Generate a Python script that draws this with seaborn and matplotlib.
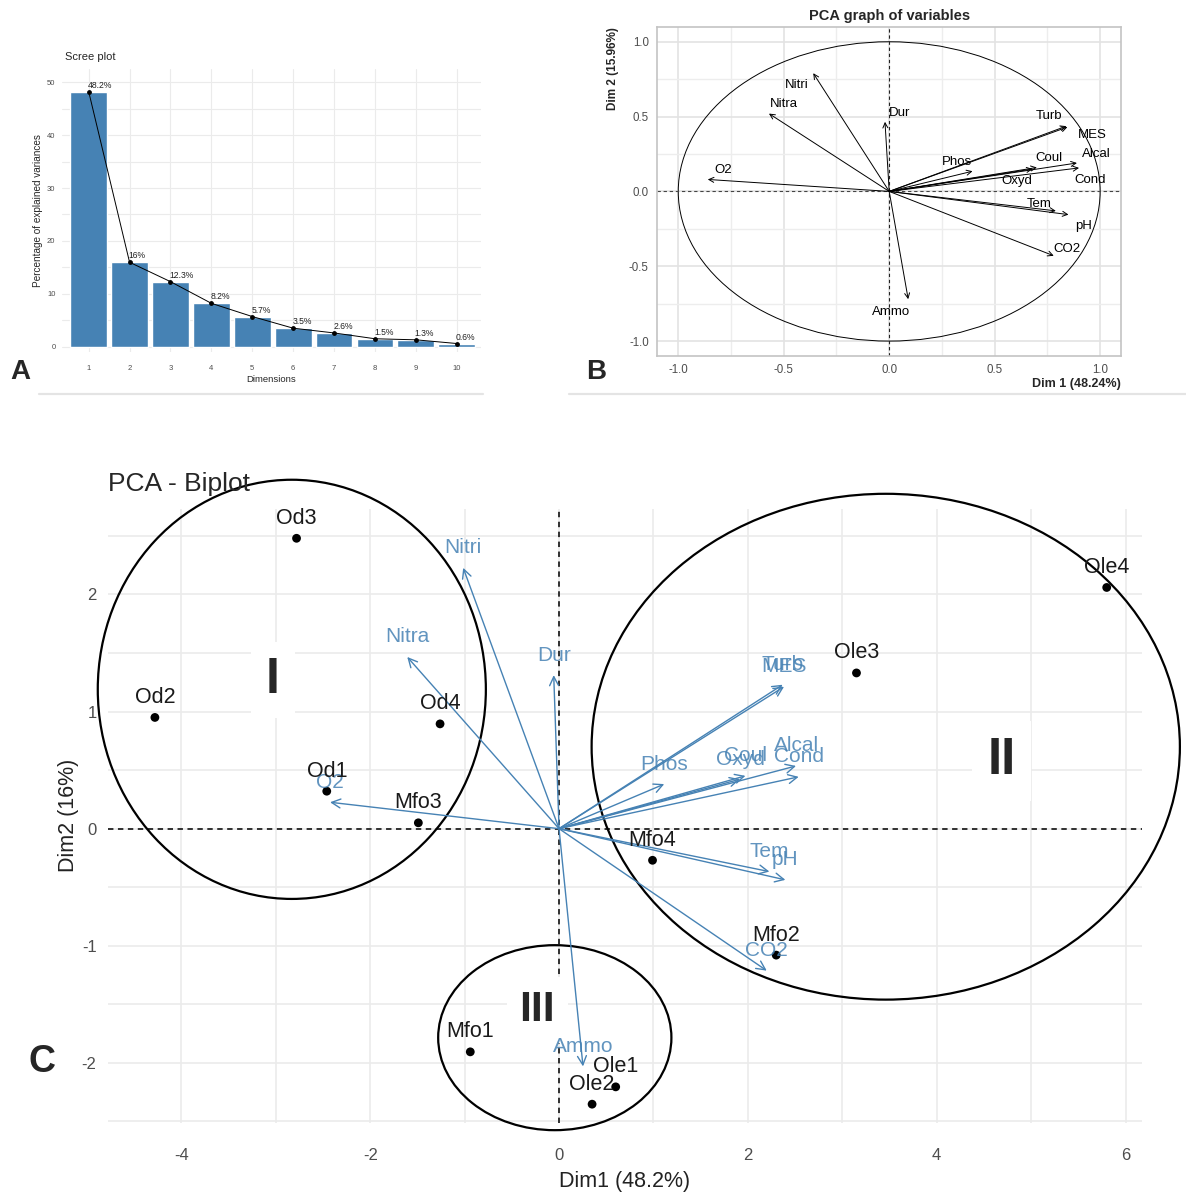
import matplotlib
matplotlib.use('Agg')
import matplotlib.pyplot as plt
from matplotlib.patches import Ellipse, Circle
from matplotlib.lines import Line2D
from matplotlib.ticker import MultipleLocator
import numpy as np
import pandas as pd
import seaborn as sns

sns.set_style('whitegrid')
plt.rcParams['font.family'] = ['Liberation Sans', 'DejaVu Sans']
plt.rcParams['axes.unicode_minus'] = False

# scree plot (A)
dims = [str(i) for i in range(1, 11)]
eig_pct = [48.24, 15.96, 12.3, 8.2, 5.7, 3.5, 2.6, 1.5, 1.3, 0.6]

# variable coordinates on the correlation circle (B)
var_names = ['Nitri', 'Nitra', 'Dur', 'O2', 'Turb', 'MES', 'Alcal', 'Coul',
             'Cond', 'Oxyd', 'Phos', 'Tem', 'pH', 'CO2', 'Ammo']
var_x = [-0.36, -0.57, -0.02, -0.86, 0.84, 0.845, 0.89, 0.70,
         0.90, 0.68, 0.395, 0.79, 0.85, 0.78, 0.09]
var_y = [0.79, 0.52, 0.465, 0.08, 0.436, 0.43, 0.19, 0.16,
         0.157, 0.15, 0.135, -0.13, -0.155, -0.43, -0.72]

# individuals (C)
ind_names = ['Od1', 'Od2', 'Od3', 'Od4', 'Mfo1', 'Mfo2', 'Mfo3', 'Mfo4',
             'Ole1', 'Ole2', 'Ole3', 'Ole4']
ind_x = [-2.46, -4.28, -2.78, -1.26, -0.94, 2.30, -1.49, 0.99, 0.60, 0.35, 3.15, 5.80]
ind_y = [0.32, 0.95, 2.48, 0.895, -1.906, -1.08, 0.05, -0.27, -2.205, -2.353, 1.33, 2.06]

# groups circled on the biplot
grp_names = ['I', 'II', 'III']
grp_cx = [-2.83, 3.46, -0.045]
grp_cy = [1.19, 0.70, -1.785]
grp_w = [4.11, 6.23, 2.47]
grp_h = [3.58, 4.32, 1.58]
grp_lx = [-3.03, 4.69, -0.23]
grp_ly = [1.27, 0.58, -1.55]

arrow_scale = 2.82  # variables rescaled onto the individuals map

GRID = '#EBEBEB'
TXT = '#4D4D4D'
BLUE = '#4682B4'

fig = plt.figure(figsize=(11.86, 11.96), dpi=100)

# ---------------- A : scree plot
axA = fig.add_axes([0.0520, 0.7057, 0.3535, 0.2366])
sns.barplot(x=dims, y=eig_pct, color=BLUE, saturation=1, width=0.9, ax=axA, zorder=2)
sns.lineplot(x=np.arange(len(dims)), y=eig_pct, color='black', lw=0.7, ax=axA, zorder=3)
axA.scatter(np.arange(len(dims)), eig_pct, s=6, color='black', zorder=4)
for i, v in enumerate(eig_pct):
    axA.annotate('%g%%' % round(v, 1), (i, v), xytext=(-1, 2), textcoords='offset pixels',
                 ha='left', va='bottom', fontsize=6.2, color='#222222', zorder=5)
axA.set_xlim(-0.66, 9.59)
axA.set_ylim(-1.0, 52.5)
axA.yaxis.set_major_locator(MultipleLocator(10))
axA.yaxis.set_minor_locator(MultipleLocator(5))
axA.grid(which='both', color=GRID, lw=0.8)
axA.set_axisbelow(True)
for s in axA.spines.values():
    s.set_visible(False)
axA.tick_params(which='major', length=2.5, width=0.6, color='#333333', labelsize=5.5,
                labelcolor=TXT, pad=2)
axA.tick_params(axis='x', pad=7)
axA.tick_params(which='minor', length=0)
axA.set_xlabel('Dimensions', fontsize=6.8, labelpad=2)
axA.set_ylabel('Percentage of explained variances', fontsize=7.2, labelpad=3)
fig.text(65 / 1186, 1 - 57 / 1196, 'Scree plot', fontsize=8, va='center', ha='left')

# ---------------- B : correlation circle
b_off = {'Nitri': (-17, -12), 'Nitra': (15, 10), 'Dur': (15, 9), 'O2': (15, 9),
         'Turb': (-17, 10), 'MES': (25, -8), 'Alcal': (19, 9), 'Coul': (12, 9),
         'Cond': (11, -12), 'Oxyd': (-16, -12), 'Phos': (-16, 9), 'Tem': (-17, 7),
         'pH': (15, -11), 'CO2': (13, 7), 'Ammo': (-17, -13)}
axB = fig.add_axes([0.5541, 0.7023, 0.3913, 0.2753])
axB.set_xlim(-1.1, 1.1)
axB.set_ylim(-1.1, 1.1)
axB.xaxis.set_major_locator(MultipleLocator(0.5))
axB.yaxis.set_major_locator(MultipleLocator(0.5))
axB.xaxis.set_minor_locator(MultipleLocator(0.25))
axB.yaxis.set_minor_locator(MultipleLocator(0.25))
axB.grid(which='major', color='#E3E3E3', lw=1.2)
axB.grid(which='minor', color='#EDEDED', lw=1.0)
for s in axB.spines.values():
    s.set_visible(True)
    s.set_color('#C4C4C4')
    s.set_linewidth(1.2)
axB.tick_params(which='both', length=0, labelsize=8.3, labelcolor=TXT, pad=6)
axB.xaxis.set_major_formatter(plt.FuncFormatter(lambda v, p: '%.1f' % v))
axB.yaxis.set_major_formatter(plt.FuncFormatter(lambda v, p: '%.1f' % v))
axB.add_patch(Circle((0, 0), 1, fill=False, ec='black', lw=0.7, zorder=2))
axB.axhline(0, color='#444444', ls=(0, (3, 2.5)), lw=0.8, zorder=2)
axB.axvline(0, color='#222222', ls=(0, (3, 2.5)), lw=0.8, zorder=2)
for n, x, y in zip(var_names, var_x, var_y):
    axB.annotate('', xy=(x, y), xytext=(0, 0),
                 arrowprops=dict(arrowstyle='->', lw=0.7, color='black',
                                 shrinkA=0, shrinkB=0, mutation_scale=9), zorder=3)
    axB.annotate(n, (x, y), xytext=b_off[n], textcoords='offset pixels',
                 ha='center', va='center', fontsize=9.5, color='black', zorder=4)
axB.set_title('PCA graph of variables', fontsize=10.5, fontweight='bold', pad=5)
axB.set_xlabel('Dim 1 (48.24%)', loc='right', fontsize=9, fontweight='bold', labelpad=1)
axB.set_ylabel('Dim 2 (15.96%)', loc='top', fontsize=8.5, fontweight='bold', labelpad=7)

# ---------------- C : biplot
axC = fig.add_axes([0.0908, 0.0614, 0.8718, 0.5130])
axC.set_xlim(-4.78, 6.17)
axC.set_ylim(-2.51, 2.73)
axC.xaxis.set_major_locator(MultipleLocator(2))
axC.xaxis.set_minor_locator(MultipleLocator(1))
axC.yaxis.set_major_locator(MultipleLocator(1))
axC.yaxis.set_minor_locator(MultipleLocator(0.5))
axC.grid(which='both', color=GRID, lw=1.2)
axC.set_axisbelow(True)
for s in axC.spines.values():
    s.set_visible(False)
axC.tick_params(which='major', length=4, width=1.2, color='#333333', labelsize=12,
                labelcolor=TXT, pad=4)
axC.tick_params(axis='x', pad=14)
axC.tick_params(which='minor', length=0)
axC.axhline(0, color='#222222', ls=(0, (3, 2.5)), lw=1.3, zorder=1)
axC.axvline(0, color='#222222', ls=(0, (3, 2.5)), lw=1.3, zorder=1)

for n, x, y in zip(var_names, var_x, var_y):
    tx, ty = x * arrow_scale, y * arrow_scale
    axC.annotate('', xy=(tx, ty), xytext=(0, 0),
                 arrowprops=dict(arrowstyle='->', lw=1.0, color=BLUE,
                                 shrinkA=0, shrinkB=0, mutation_scale=16), zorder=3)
    axC.annotate(n, (tx, ty), xytext=(0, 20), textcoords='offset pixels',
                 ha='center', va='center', fontsize=15, color=BLUE, alpha=0.85, zorder=7)

pts = pd.DataFrame({'x': ind_x, 'y': ind_y, 'name': ind_names})
sns.scatterplot(data=pts, x='x', y='y', color='black', s=40, edgecolor='none', ax=axC, zorder=4)
for n, x, y in zip(ind_names, ind_x, ind_y):
    axC.annotate(n, (x, y), xytext=(0, 20), textcoords='offset pixels',
                 ha='center', va='center', fontsize=15.5, color='#1a1a1a', zorder=7)

grp_size = [36, 37, 31]
for g, cx, cy, w, h, lx, ly, fs in zip(grp_names, grp_cx, grp_cy, grp_w, grp_h,
                                        grp_lx, grp_ly, grp_size):
    axC.add_patch(Ellipse((cx, cy), w, h, fill=False, ec='black', lw=1.6, zorder=2,
                          clip_on=False))
    axC.text(lx, ly, g, fontsize=fs, fontweight='bold', ha='center', va='center', zorder=6,
             bbox=dict(boxstyle='square,pad=0.3', fc='white', ec='none'))

axC.set_xlabel('Dim1 (48.2%)', fontsize=15.5, color='#222222', labelpad=6)
axC.set_ylabel('Dim2 (16%)', fontsize=15.5, color='#222222', labelpad=2)
fig.text(108 / 1186, 1 - 484 / 1196, 'PCA - Biplot', fontsize=19, va='center', ha='left')

# panel letters and separators
fig.text(20 / 1186, 1 - 372 / 1196, 'A', fontsize=20, fontweight='bold', ha='center', va='center')
fig.text(596 / 1186, 1 - 372 / 1196, 'B', fontsize=20, fontweight='bold', ha='center', va='center')
fig.text(42 / 1186, 1 - 1062 / 1196, 'C', fontsize=27, fontweight='bold', ha='center', va='center')
fig.add_artist(Line2D([39 / 1186, 483 / 1186], [1 - 394 / 1196] * 2, color='#E4E4E4', lw=1.6))
fig.add_artist(Line2D([569 / 1186, 1.0], [1 - 394 / 1196] * 2, color='#E4E4E4', lw=1.6))

fig.savefig('out.png', dpi=100, facecolor='white')
